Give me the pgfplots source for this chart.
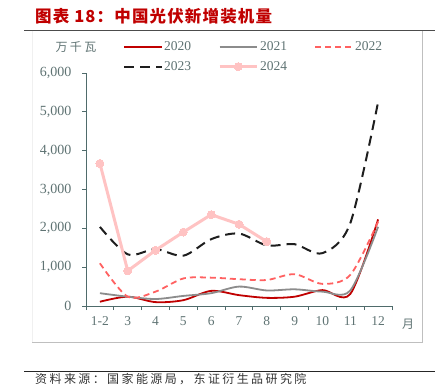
\documentclass[border=0pt]{standalone}
\usepackage{fontspec}
\setmainfont{Liberation Serif}
\newfontfamily\cjk{Noto Sans CJK SC}
\newfontfamily\cjkt{Noto Sans CJK SC}[LetterSpace=7]
\newfontfamily\cjkls{Noto Sans CJK SC}[LetterSpace=20]
\usepackage{pgfplots}
\pgfplotsset{compat=1.18}
\definecolor{c20}{HTML}{C00000}
\definecolor{c21}{HTML}{8C8C8C}
\definecolor{c22}{HTML}{FF6161}
\definecolor{c23}{HTML}{1E1E1E}
\definecolor{c24}{HTML}{FFC3C3}
\definecolor{axc}{HTML}{4F6B6B}
\definecolor{tkc}{HTML}{5F7373}
\begin{document}
\begin{tikzpicture}[x=1pt,y=1pt]
\path[use as bounding box] (0,0) rectangle (435,-385);
\node[anchor=west, text=c20, inner sep=0] at (35,-16) {\cjkt\bfseries\fontsize{16.5}{17}\selectfont 图表 18：中国光伏新增装机量};
\draw[color=black!70, line width=1pt] (24,-31) -- (435,-31);
\draw[black!25, line width=0.6pt] (422,-31) -- (422,-342) -- (32,-342);
\draw[black!6, line width=0.6pt] (32,-31) -- (32,-342);
\draw[black!85, line width=1pt] (24,-371) -- (435,-371);
\node[anchor=west, inner sep=0, text=black!80] at (35,-379) {\cjkls\fontsize{12}{13}\selectfont 资料来源：国家能源局，东证衍生品研究院};
\node[text=tkc, inner sep=0] at (76,-47) {\cjkls\fontsize{12}{13}\selectfont 万千瓦};
\node[text=tkc, inner sep=0] at (408,-324) {\cjk\fontsize{12}{13}\selectfont 月};
\begin{axis}[at={(86pt,-306pt)}, anchor=south west, scale only axis,
  width=306pt, height=233pt,
  xmin=-0.5, xmax=10.5, ymin=0, ymax=6000,
  axis x line*=bottom, axis y line*=left,
  axis line style={axc, line width=1pt, -},
  xtick={0,...,10}, xticklabels={1-2,3,4,5,6,7,8,9,10,11,12},
  major x tick style={draw=none},
  minor xtick={-0.5,0.5,...,10.5},
  minor x tick style={axc, line width=1pt},
  minor tick length=4pt,
  ytick={0,1000,...,6000},
  y tick style={axc, line width=1pt},
  major tick length=4pt,
  tick align=outside,
  ticklabel style={text=tkc},
  xticklabel style={font=\fontsize{13.5}{14}\selectfont, yshift=-3pt},
  yticklabel style={font=\fontsize{14}{15}\selectfont, /pgf/number format/1000 sep={,}, xshift=-7pt},
  /pgf/number format/assume math mode=true,
  legend columns=3,
  legend cell align=left,
  legend image code/.code={\draw[mark repeat=2,mark phase=2,#1] plot coordinates {(0pt,0pt) (18.5pt,0pt) (37pt,0pt)};},
  legend style={at={(0.121,1.143)}, anchor=north west, draw=none, fill=none, inner sep=0pt,
    font=\fontsize{13.5}{14}\selectfont, text=tkc, row sep=5pt,
    /tikz/every even column/.append style={column sep=25pt}},
]
\addplot[c20, line width=1.8pt, smooth] coordinates {(0,110)(1,240)(2,100)(3,150)(4,390)(5,280)(6,210)(7,240)(8,410)(9,310)(10,2230)};
\addplot[c21, line width=1.8pt, smooth] coordinates {(0,330)(1,240)(2,180)(3,260)(4,330)(5,500)(6,400)(7,430)(8,370)(9,400)(10,2040)};
\addplot[c22, line width=1.8pt, smooth, dash pattern=on 6pt off 4pt] coordinates {(0,1100)(1,240)(2,370)(3,710)(4,730)(5,690)(6,670)(7,820)(8,570)(9,800)(10,2170)};
\addplot[c23, line width=2pt, smooth, dash pattern=on 10pt off 6pt] coordinates {(0,2037)(1,1330)(2,1465)(3,1295)(4,1721)(5,1866)(6,1561)(7,1591)(8,1362)(9,2132)(10,5250)};
\addplot[c24, line width=3pt, mark=*, mark size=4pt, mark options={solid, fill=c24, draw=c24, line width=0pt}] coordinates {(0,3672)(1,904)(2,1436)(3,1904)(4,2353)(5,2105)(6,1657)};
\legend{2020,2021,2022,2023,2024}
\end{axis}
\end{tikzpicture}
\end{document}
